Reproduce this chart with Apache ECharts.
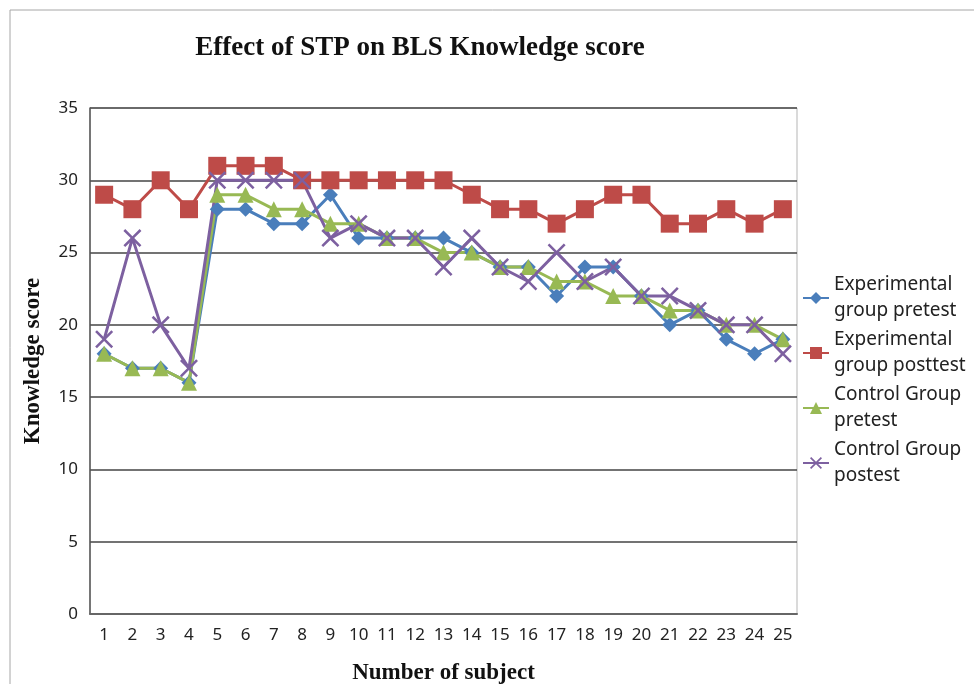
<!DOCTYPE html>
<html>
<head>
<meta charset="utf-8">
<script src="https://cdn.jsdelivr.net/npm/echarts@6/dist/echarts.min.js"></script>
<style>
  html, body { margin: 0; padding: 0; background: #fff; }
  #magicEchart { width: 974px; height: 684px; }
</style>
</head>
<body>
<div id="magicEchart"></div>
<script>
  // subjects 1..25
  var subjects = ['1','2','3','4','5','6','7','8','9','10','11','12','13','14','15','16','17','18','19','20','21','22','23','24','25'];
  var expPretest  = [18,17,17,16,28,28,27,27,29,26,26,26,26,25,24,24,22,24,24,22,20,21,19,18,19];
  var expPosttest = [29,28,30,28,31,31,31,30,30,30,30,30,30,29,28,28,27,28,29,29,27,27,28,27,28];
  var ctrlPretest = [18,17,17,16,29,29,28,28,27,27,26,26,25,25,24,24,23,23,22,22,21,21,20,20,19];
  var ctrlPostest = [19,26,20,17,30,30,30,30,26,27,26,26,24,26,24,23,25,23,24,22,22,21,20,20,18];
  var seriesNames = ['Experimental group pretest', 'Experimental group posttest', 'Control Group pretest', 'Control Group postest'];
  // legend text wraps like the original
  var legendLabels = {
      'Experimental group pretest': 'Experimental\ngroup pretest',
      'Experimental group posttest': 'Experimental\ngroup posttest',
      'Control Group pretest': 'Control Group\npretest',
      'Control Group postest': 'Control Group\npostest'
  };

  var crossSymbol = 'path://M0,1L1,0L5,4L9,0L10,1L6,5L10,9L9,10L5,6L1,10L0,9L4,5Z';

  function makeLine(name, data, color, symbol, size) {
      return {
          name: name,
          type: 'line',
          data: data,
          symbol: symbol,
          symbolSize: size,
          showAllSymbol: true,
          lineStyle: { color: color, width: 3 },
          itemStyle: { color: color },
          emphasis: { disabled: true }
      };
  }

  var chart = echarts.init(document.getElementById('magicEchart'));
  var option = {
      backgroundColor: '#fff',
      animation: false,
      title: {
          text: 'Effect of STP on BLS Knowledge score',
          left: 415,
          textAlign: 'center',
          top: 30,
          textStyle: { fontFamily: 'Liberation Serif', fontWeight: 'bold', fontSize: 27, color: '#111' }
      },
      graphic: [{
          type: 'rect',
          shape: { x: 10, y: 10, width: 990, height: 700 },
          style: { fill: 'none', stroke: '#a6a6a6', lineWidth: 1 },
          silent: true
      }],
      legend: {
          orient: 'vertical',
          left: 797,
          top: 267,
          itemWidth: 26,
          itemHeight: 15,
          itemGap: 3,
          data: seriesNames,
          formatter: function (name) {
              return legendLabels[name];
          },
          textStyle: { fontFamily: 'Noto Sans', fontSize: 19, color: '#222', lineHeight: 26 }
      },
      grid: {
          left: 90, right: 177, top: 108, bottom: 70,
          outerBoundsMode: 'none',
          show: true, borderColor: '#b5b5b5', borderWidth: 1
      },
      xAxis: {
          type: 'category',
          data: subjects,
          boundaryGap: true,
          name: 'Number of subject',
          nameLocation: 'middle',
          nameGap: 48,
          nameTextStyle: { fontFamily: 'Liberation Serif', fontWeight: 'bold', fontSize: 23, color: '#111' },
          axisLine: { lineStyle: { color: '#666', width: 2 } },
          axisTick: { show: false },
          axisLabel: { interval: 0, margin: 13, fontFamily: 'Noto Sans', fontSize: 17, color: '#222' }
      },
      yAxis: {
          type: 'value',
          min: 0,
          max: 35,
          interval: 5,
          name: 'Knowledge score',
          nameLocation: 'middle',
          nameGap: 45,
          nameTextStyle: { fontFamily: 'Liberation Serif', fontWeight: 'bold', fontSize: 23, color: '#111' },
          axisLine: { show: true, lineStyle: { color: '#555', width: 1.5 } },
          axisTick: { show: false },
          axisLabel: { margin: 12, fontFamily: 'Noto Sans', fontSize: 17, color: '#222' },
          splitLine: { lineStyle: { color: '#444', width: 1.5 } }
      },
      series: [
          makeLine(seriesNames[0], expPretest, '#4A7EBB', 'diamond', 15),
          makeLine(seriesNames[1], expPosttest, '#BE4B48', 'rect', 18),
          makeLine(seriesNames[2], ctrlPretest, '#98B954', 'triangle', 16),
          makeLine(seriesNames[3], ctrlPostest, '#7D60A0', crossSymbol, 18)
      ]
  };
  chart.setOption(option);
</script>
</body>
</html>
